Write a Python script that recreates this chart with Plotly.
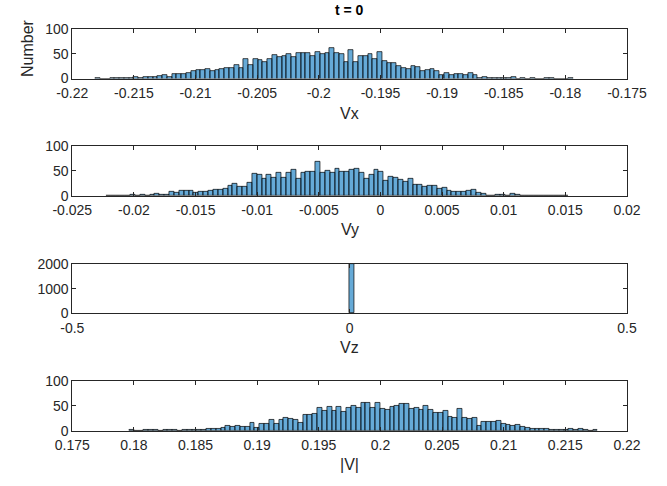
import plotly.graph_objects as go

W, H = 667, 486

# ---- data (bin start, bin width, counts) ----
vx_start = -0.21812
vx_width = 0.0003876
vx_counts = [1, 0, 0, 1, 1, 1, 2, 1,
             3, 2, 4, 4, 3, 5, 7, 3,
             9, 9, 10, 12,
             16, 17, 17, 19, 16,
             18, 20, 22, 22,
             28, 22, 39, 28, 39, 38, 33, 39, 47, 43,
             46, 50, 43, 51, 52, 52, 45, 54, 49, 51,
             61, 51, 49, 34, 57, 33, 46, 45, 49, 39,
             54, 36, 32, 32, 25, 22, 20, 26, 23, 16,
             17, 19, 16, 8, 12, 7, 10, 10, 8, 12,
             7, 2, 4, 1, 2, 1, 1, 2, 3,
             0, 1, 0, 1, 0, 0, 1, 1, 0, 0, 0, 1]

vy_start = -0.02226
vy_width = 0.000395
vy_counts = [1, 0, 0, 0, 1, 2, 1, 2, 1, 2, 5, 2, 3, 9, 6, 11, 11, 11,
             7, 8, 8, 11, 13, 12, 15, 21, 24, 19,
             19, 27, 45, 43, 35, 43, 37, 47, 37, 46,
             53, 35, 47, 49, 49, 69, 47, 51, 47, 54,
             48, 49, 53, 55, 46, 35, 43, 53, 48, 31,
             39, 37, 33, 28, 35, 23, 23, 19, 21, 21,
             15, 17, 10, 8, 8, 8, 11, 13, 6,
             4, 1, 0, 2, 2, 1, 4, 2, 1, 1, 1, 0, 1, 0, 0, 0, 0, 1]

vz_start = -0.001
vz_width = 0.01
vz_counts = [2000]

v_start = 0.17960
v_width = 0.000392
v_counts = [1, 0, 0, 1, 1, 1, 0, 1, 1, 1, 0, 2, 1, 2, 2, 2, 3, 3, 3, 5, 10,
            7, 10, 7, 8, 16, 5, 14, 14, 22, 13,
            22, 25, 23, 22, 16, 32, 32, 34, 45, 39,
            48, 39, 47, 38, 45, 49, 46, 55, 55, 45, 55,
            44, 42, 47, 49, 53, 53, 44, 45, 41, 50,
            41, 36, 35, 40, 27, 26, 44, 25, 24, 25,
            10, 18, 17, 17, 20, 14, 11, 9, 11,
            8, 6, 4, 3, 3, 4, 2, 1, 2, 1, 3, 2, 3, 1, 0, 2]

vx_ticks = [-0.22, -0.215, -0.21, -0.205, -0.2, -0.195, -0.19, -0.185, -0.18, -0.175]
vx_ticktext = ["-0.22", "-0.215", "-0.21", "-0.205", "-0.2", "-0.195", "-0.19", "-0.185", "-0.18", "-0.175"]
vy_ticks = [-0.025, -0.02, -0.015, -0.01, -0.005, 0, 0.005, 0.01, 0.015, 0.02]
vy_ticktext = ["-0.025", "-0.02", "-0.015", "-0.01", "-0.005", "0", "0.005", "0.01", "0.015", "0.02"]
vz_ticks = [-0.5, 0, 0.5]
vz_ticktext = ["-0.5", "0", "0.5"]
v_ticks = [0.175, 0.18, 0.185, 0.19, 0.195, 0.2, 0.205, 0.21, 0.215, 0.22]
v_ticktext = ["0.175", "0.18", "0.185", "0.19", "0.195", "0.2", "0.205", "0.21", "0.215", "0.22"]
count_ticks = [0, 50, 100]
vz_count_ticks = [0, 1000, 2000]

labels = ["Vx", "Vy", "Vz", "|V|"]

# ---- layout geometry (pixels) ----
x_left, x_right = 72.3, 627.0
panels_px = [(29.0, 78.5), (145.7, 195.7), (264.0, 313.3), (380.8, 430.7)]
label_y_px = [113, 230, 347, 464]

FACE = "rgba(0,114,189,0.6)"
AX = "#262626"
FONT = "Liberation Sans, Arial, Helvetica, sans-serif"

panels = [
    (vx_start, vx_width, vx_counts, [-0.22, -0.175], vx_ticks, vx_ticktext, [0, 100], count_ticks),
    (vy_start, vy_width, vy_counts, [-0.025, 0.02], vy_ticks, vy_ticktext, [0, 100], count_ticks),
    (vz_start, vz_width, vz_counts, [-0.5, 0.5], vz_ticks, vz_ticktext, [0, 2000], vz_count_ticks),
    (v_start, v_width, v_counts, [0.175, 0.22], v_ticks, v_ticktext, [0, 100], count_ticks),
]

fig = go.Figure()
layout = dict(
    template="none",
    width=W, height=H,
    margin=dict(l=0, r=0, t=0, b=0, pad=0),
    paper_bgcolor="white", plot_bgcolor="white",
    showlegend=False, bargap=0,
    font=dict(family=FONT, size=14, color=AX),
)
annotations = []

for i, (start, width, counts, xr, xt, xtt, yr, yt) in enumerate(panels):
    n = i + 1
    centers = [start + width * (k + 0.5) for k in range(len(counts))]
    fig.add_trace(go.Bar(
        x=centers, y=counts, width=width,
        marker=dict(color=FACE, line=dict(color="black", width=0.7)),
        xaxis=f"x{n}" if n > 1 else "x", yaxis=f"y{n}" if n > 1 else "y",
        hoverinfo="x+y",
    ))
    top, bot = panels_px[i]
    xd = [x_left / W, x_right / W]
    yd = [1 - bot / H, 1 - top / H]
    common = dict(showline=True, linecolor=AX, linewidth=0.8, mirror="ticks",
                  ticks="inside", ticklen=4, tickcolor=AX, tickwidth=0.8,
                  showgrid=False, zeroline=False, automargin=False,
                  tickfont=dict(family=FONT, size=14, color=AX))
    layout[f"xaxis{n}" if n > 1 else "xaxis"] = dict(
        domain=xd, range=xr, tickvals=xt, ticktext=xtt, ticklabelstandoff=2,
        anchor=f"y{n}" if n > 1 else "y", **common)
    layout[f"yaxis{n}" if n > 1 else "yaxis"] = dict(
        domain=yd, range=yr, tickvals=yt,
        anchor=f"x{n}" if n > 1 else "x", **common)
    annotations.append(dict(
        text=labels[i], x=(x_left + x_right) / 2 / W, y=1 - label_y_px[i] / H,
        xref="paper", yref="paper", showarrow=False, xanchor="center", yanchor="middle",
        font=dict(family=FONT, size=16, color=AX)))

annotations.append(dict(
    text="<b>t = 0</b>", x=349.5 / W, y=1 - 10 / H, xref="paper", yref="paper",
    showarrow=False, xanchor="center", yanchor="middle",
    font=dict(family=FONT, size=14, color="black")))
annotations.append(dict(
    text="Number", x=27 / W, y=1 - 48 / H, xref="paper", yref="paper",
    showarrow=False, xanchor="center", yanchor="middle", textangle=-90,
    font=dict(family=FONT, size=16, color=AX)))

layout["annotations"] = annotations
fig.update_layout(**layout)
fig.write_html("out.html", config={"displayModeBar": False},
               post_script="document.body.style.margin='0px';")
